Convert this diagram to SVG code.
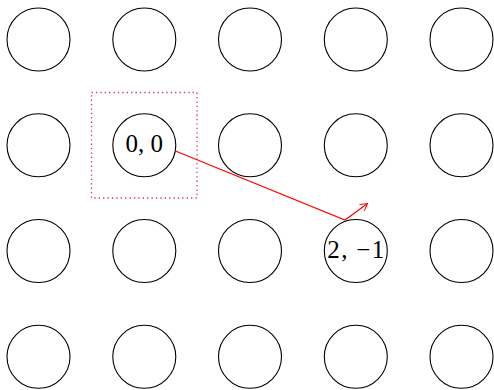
<svg xmlns="http://www.w3.org/2000/svg" width="494" height="390" viewBox="0 0 494 390">
<style>
.n{fill:none;stroke:#000;stroke-width:1.1}
.t{font-family:"Liberation Serif","DejaVu Serif",serif;font-size:25px;text-anchor:middle}
</style>
<defs>
<marker id="ah" markerWidth="10" markerHeight="10" refX="8" refY="5" orient="auto" markerUnits="userSpaceOnUse">
<path d="M1,1 L8,5 L1,9" fill="none" stroke="red" stroke-width="1"/>
</marker>
</defs>
<rect fill="#fff" width="494" height="390"/>
<g id="n00"><circle class="n" cx="38.5" cy="39.5" r="31.5"/></g>
<g id="n10"><circle class="n" cx="144.3" cy="39.5" r="31.5"/></g>
<g id="n20"><circle class="n" cx="250" cy="39.5" r="31.5"/></g>
<g id="n30"><circle class="n" cx="355.8" cy="39.5" r="31.5"/></g>
<g id="n40"><circle class="n" cx="461.5" cy="39.5" r="31.5"/></g>
<g id="n01"><circle class="n" cx="38.5" cy="145.3" r="31.5"/></g>
<g id="n11"><circle class="n" cx="144.3" cy="145.3" r="31.5"/><text class="t" x="144.3" y="152">0, 0</text></g>
<g id="n21"><circle class="n" cx="250" cy="145.3" r="31.5"/></g>
<g id="n31"><circle class="n" cx="355.8" cy="145.3" r="31.5"/></g>
<g id="n41"><circle class="n" cx="461.5" cy="145.3" r="31.5"/></g>
<g id="n02"><circle class="n" cx="38.5" cy="251" r="31.5"/></g>
<g id="n12"><circle class="n" cx="144.3" cy="251" r="31.5"/></g>
<g id="n22"><circle class="n" cx="250" cy="251" r="31.5"/></g>
<g id="n32"><circle class="n" cx="355.8" cy="251" r="31.5"/><text class="t" x="355.8" y="258" textLength="57" lengthAdjust="spacing">2, −1</text></g>
<g id="n42"><circle class="n" cx="461.5" cy="251" r="31.5"/></g>
<g id="n03"><circle class="n" cx="38.5" cy="356.8" r="31.5"/></g>
<g id="n13"><circle class="n" cx="144.3" cy="356.8" r="31.5"/></g>
<g id="n23"><circle class="n" cx="250" cy="356.8" r="31.5"/></g>
<g id="n33"><circle class="n" cx="355.8" cy="356.8" r="31.5"/></g>
<g id="n43"><circle class="n" cx="461.5" cy="356.8" r="31.5"/></g>
<g id="box"><rect x="91.5" y="92.5" width="105.5" height="105.5" fill="none" stroke="#d9306a" stroke-width="1.3" stroke-dasharray="1.3 3.1"/></g>
<g id="connectors">
<polyline points="175.5,151 345,220 367.5,203.5" fill="none" stroke="red" stroke-width="1.1" marker-end="url(#ah)"/>
</g>
</svg>
